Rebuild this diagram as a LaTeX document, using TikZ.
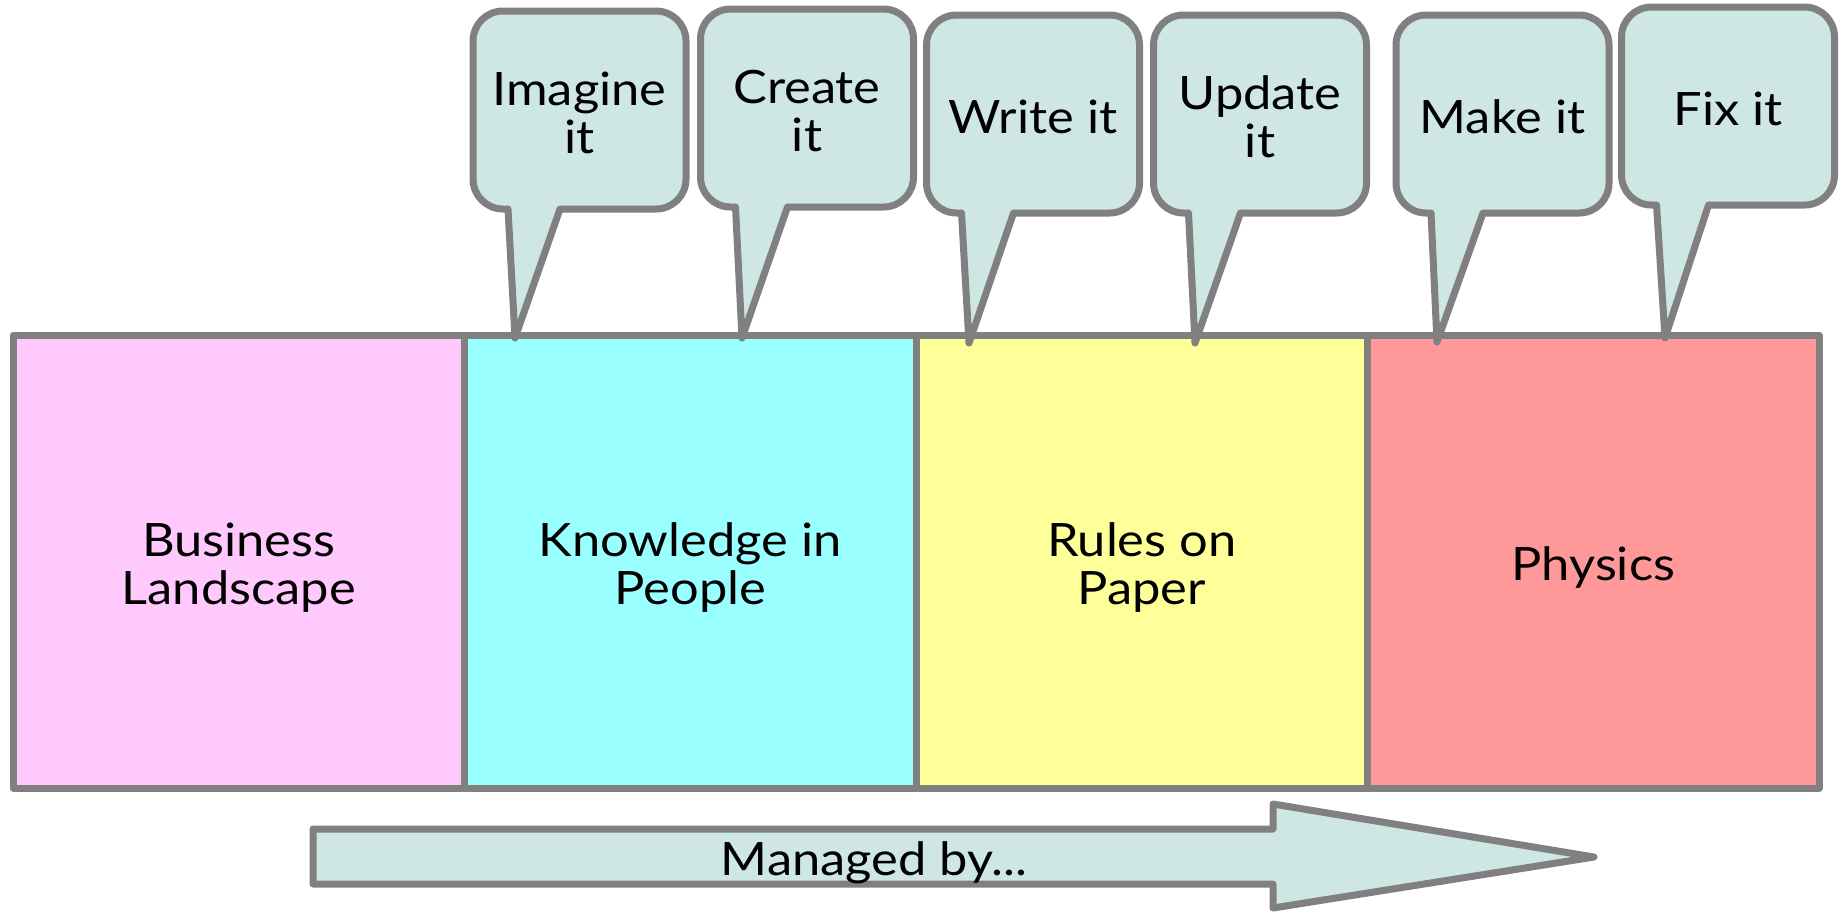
\documentclass[tikz,border=0pt]{standalone}
\usepackage{fontspec}
\setmainfont{Lato}[FakeStretch=1.1]
\usetikzlibrary{positioning}

\definecolor{pinkfill}{RGB}{255,201,253}
\definecolor{cyanfill}{RGB}{153,255,255}
\definecolor{yellowfill}{RGB}{255,255,153}
\definecolor{redfill}{RGB}{255,153,153}
\definecolor{bubblefill}{RGB}{207,231,228}
\definecolor{edgegray}{RGB}{128,128,128}

\tikzset{
  area/.style={draw=edgegray, line width=3.5pt, line join=round, minimum width=225.75pt, minimum height=226.5pt, inner sep=0pt, outer sep=0pt, text height=23pt, align=center},
  bubble/.style={draw=edgegray, fill=bubblefill, line width=3.5pt, rounded corners=15pt, minimum width=106.5pt, minimum height=99pt, inner sep=0pt, outer sep=0pt, text height=19.5pt, align=center},
  pointer/.style={draw=edgegray, line width=3.5pt, line join=round, line cap=round},
  bigarrow/.style={draw=edgegray, fill=bubblefill, line width=3.5pt, line join=round}
}

\begin{document}
\begin{tikzpicture}[x=0.5pt, y=-0.5pt, font=\fontsize{23}{24}\selectfont]

\useasboundingbox (0,0) rectangle (1841,912);

\node[area, fill=pinkfill, text height=47pt] (business) at (238.75,561.5) {Business\\Landscape};
\node[area, fill=cyanfill, text height=47pt, right=0pt of business] (people) {Knowledge in\\People};
\node[area, fill=yellowfill, text height=47pt, right=0pt of people] (paper) {Rules on\\Paper};
\node[area, fill=redfill, right=0pt of paper] (physics) {Physics};

\node[bubble, text height=43.5pt] (imagine) at (579.5,110) {Imagine\\it};
\node[bubble, text height=43.5pt] (create) at (807,108) {Create\\it};
\node[bubble] (write) at (1033,114) {Write it};
\node[bubble, text height=43.5pt] (update) at (1260,114) {Update\\it};
\node[bubble] (make) at (1502.5,114) {Make it};
\node[bubble] (fix) at (1728,106) {Fix it};

\coordinate (imagine tip) at (515,338);
\coordinate (create tip) at (742,338);
\coordinate (write tip) at (969,343);
\coordinate (update tip) at (1195,343);
\coordinate (make tip) at (1437,342);
\coordinate (fix tip) at (1665,338);

\foreach \b in {imagine,create,write,update,make,fix}{
  \fill[bubblefill] ([xshift=17.5pt,yshift=2.2pt]\b.south west) -- ([xshift=17.5pt]\b.south west) -- (\b\space tip) -- ([xshift=43.5pt]\b.south west) -- ([xshift=43.5pt,yshift=2.2pt]\b.south west) -- cycle;
  \draw[pointer] ([xshift=17.5pt]\b.south west) -- (\b\space tip) -- ([xshift=43.5pt]\b.south west);
}

\draw[bigarrow] (313,829) -- (1273,829) -- (1273,804) -- (1594,857) -- (1273,908) -- (1273,884) -- (313,884) -- cycle;
\node[text height=23pt] (managed) at (874,857) {Managed by...};

\end{tikzpicture}
\end{document}
